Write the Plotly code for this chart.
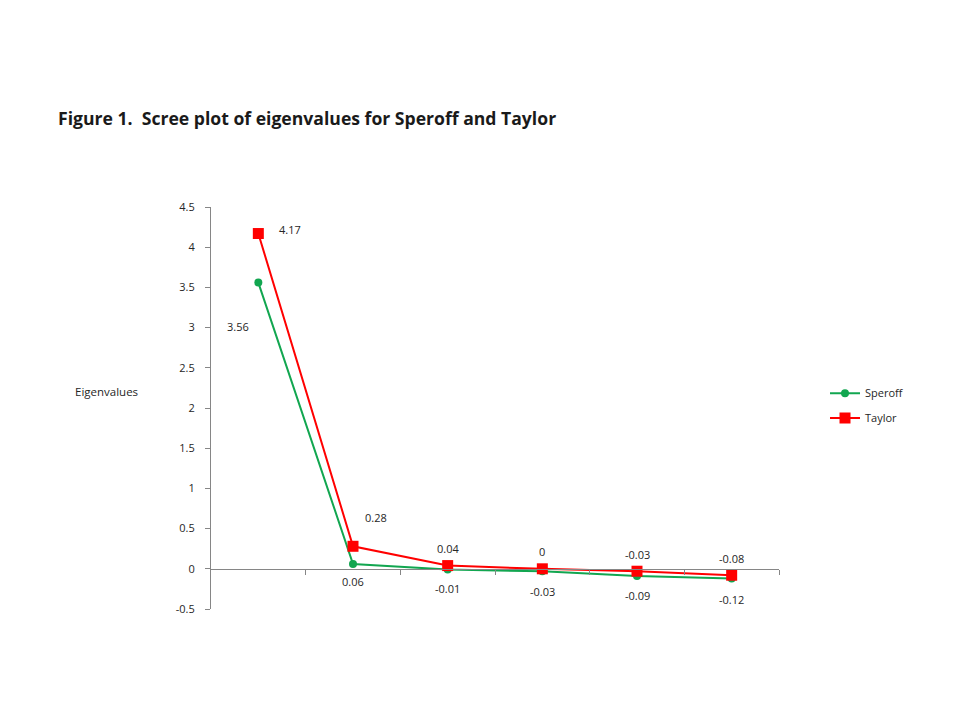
import plotly.graph_objects as go

components = [1, 2, 3, 4, 5, 6]
speroff = [3.56, 0.06, -0.01, -0.03, -0.09, -0.12]
taylor = [4.17, 0.28, 0.04, 0.00, -0.03, -0.08]
speroff_labels = ["3.56", "0.06", "-0.01", "-0.03", "-0.09", "-0.12"]
taylor_labels = ["4.17", "0.28", "0.04", "0", "-0.03", "-0.08"]
ytick_vals = [-0.5, 0, 0.5, 1, 1.5, 2, 2.5, 3, 3.5, 4, 4.5]
ytick_text = ["-0.5", "0", "0.5", "1", "1.5", "2", "2.5", "3", "3.5", "4", "4.5"]

GREEN = "#12A650"
RED = "#FF0000"
FONT = "Open Sans"
OFF = 8  # page body margin

fig = go.Figure()
fig.add_trace(go.Scatter(
    x=components, y=speroff, name="Speroff", mode="lines+markers",
    line=dict(color=GREEN, width=2),
    marker=dict(symbol="circle", size=8, color=GREEN),
    legend="legend",
))
fig.add_trace(go.Scatter(
    x=components, y=taylor, name="Taylor", mode="lines+markers",
    line=dict(color=RED, width=2),
    marker=dict(symbol="square", size=11, color=RED),
    legend="legend2",
))

# data labels
sp_offsets = [(-20, -44), (0, -18), (0, -19), (0, -20), (0, -19), (0, -21)]
ta_offsets = [(32, 4), (23, 29), (0, 17), (0, 17), (0, 17), (0, 17)]
for xv, yv, t, (dx, dy) in zip(components, speroff, speroff_labels, sp_offsets):
    fig.add_annotation(x=xv, y=yv, text=t, showarrow=False, xshift=dx, yshift=dy,
                       font=dict(family=FONT, size=11, color="#262626"))
for xv, yv, t, (dx, dy) in zip(components, taylor, taylor_labels, ta_offsets):
    fig.add_annotation(x=xv, y=yv, text=t, showarrow=False, xshift=dx, yshift=dy,
                       font=dict(family=FONT, size=11, color="#262626"))

fig.add_annotation(xref="paper", yref="paper", x=-0.125, y=0.54, xanchor="right",
                   text="Eigenvalues", showarrow=False,
                   font=dict(family=FONT, size=11.5, color="#262626"))

legfont = dict(family=FONT, size=11, color="#262626")
fig.update_layout(
    width=960, height=720,
    margin=dict(l=211 - OFF, r=181 + OFF, t=207 - OFF, b=111 + OFF),
    paper_bgcolor="white", plot_bgcolor="white",
    font=dict(family=FONT, size=11, color="#262626"),
    title=dict(text="<b>Figure 1.  Scree plot of eigenvalues for Speroff and Taylor</b>",
               x=(58 - OFF) / 960, xanchor="left", y=1 - (119 - OFF) / 720, yanchor="middle",
               font=dict(family=FONT, size=17.6, color="#1a1a1a")),
    showlegend=True,
    legend=dict(x=1.081, xanchor="left", y=0.537, yanchor="middle", font=legfont,
                bgcolor="rgba(0,0,0,0)", itemwidth=30),
    legend2=dict(x=1.081, xanchor="left", y=0.475, yanchor="middle", font=legfont,
                 bgcolor="rgba(0,0,0,0)", itemwidth=30),
    xaxis=dict(
        range=[0.5, 6.5], anchor="free", position=0.1,
        showgrid=False, zeroline=False, showline=True, linecolor="#868686", linewidth=1,
        tickmode="array", tickvals=[1.5, 2.5, 3.5, 4.5, 5.5, 6.5], ticktext=[""] * 6,
        ticks="outside", ticklen=5, tickcolor="#868686",
    ),
    yaxis=dict(
        range=[-0.5, 4.5], showgrid=False, zeroline=False,
        showline=True, linecolor="#868686", linewidth=1,
        tickmode="array", tickvals=ytick_vals, ticktext=ytick_text,
        ticks="outside", ticklen=5, tickcolor="#868686",
        ticklabelstandoff=8,
    ),
)

fig.write_html("out.html")
